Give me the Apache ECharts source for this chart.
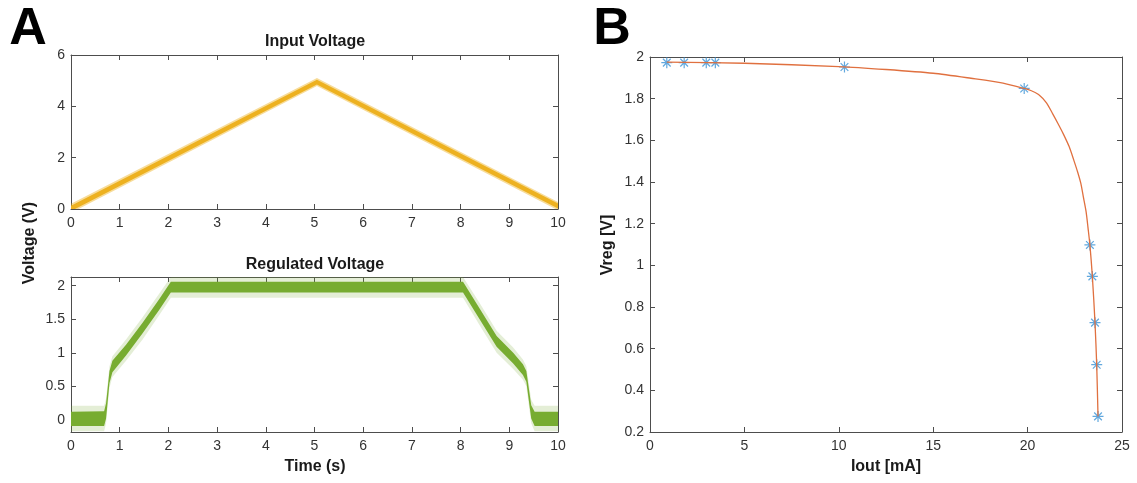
<!DOCTYPE html>
<html><head><meta charset="utf-8">
<script src="https://cdn.jsdelivr.net/npm/echarts@6/dist/echarts.min.js"></script>
<style>html,body{margin:0;padding:0;background:#fff}#c{width:1137px;height:483px}</style>
</head><body><div id="c"></div><script>
// ---- Panel A (top): Input voltage, noisy triangle read as envelope ----
const inT      = [0,     5.05, 10];
const inCoreLo = [-0.08, 4.85, 0.02];
const inCoreHi = [0.13,  5.04, 0.21];
const inFuzzLo = [-0.15, 4.79, -0.05];
const inFuzzHi = [0.20,  5.10, 0.27];
// ---- Panel A (bottom): Regulated voltage envelope ----
const regT       = [0,    0.68, 0.72, 0.79, 0.85, 1.13, 1.47, 1.81, 2.05, 8.05, 8.40, 8.74, 9.08, 9.28, 9.35, 9.45, 9.52, 10];
const regCoreLo  = [-0.09,-0.09, 0.02, 0.55, 0.71, 0.96, 1.29, 1.64, 1.90, 1.90, 1.49, 1.09, 0.84, 0.67, 0.57, 0.02,-0.09,-0.09];
const regCoreHi  = [0.12, 0.13, 0.25, 0.73, 0.88, 1.12, 1.45, 1.80, 2.06, 2.06, 1.65, 1.25, 1.00, 0.83, 0.73, 0.22, 0.12, 0.12];
const regSpikeLo = [-0.17,-0.17,-0.05, 0.48, 0.64, 0.88, 1.20, 1.56, 1.82, 1.82, 1.40, 1.00, 0.76, 0.60, 0.50,-0.05,-0.17,-0.17];
const regSpikeHi = [0.21, 0.21, 0.32, 0.80, 0.95, 1.20, 1.53, 1.88, 2.13, 2.13, 1.73, 1.33, 1.08, 0.90, 0.80, 0.30, 0.21, 0.21];
const regYTicks  = [0, 0.5, 1, 1.5, 2];
// ---- Panel B: Vreg vs Iout ----
const iout = [0.89, 1.81, 2.98, 3.46, 10.30, 19.82, 23.30, 23.43, 23.57, 23.66, 23.73];
const vreg = [1.973, 1.973, 1.973, 1.973, 1.952, 1.849, 1.098, 0.947, 0.725, 0.523, 0.275];
const fitI = [0.89, 5, 10, 12.5, 15, 17, 18.7, 19.82, 20.2, 20.58, 21.0, 21.33, 21.6, 21.89, 22.2, 22.45, 22.65, 22.82, 22.95, 23.1, 23.2, 23.3, 23.43, 23.57, 23.66, 23.73];
const fitV = [1.975, 1.970, 1.954, 1.940, 1.922, 1.898, 1.875, 1.849, 1.838, 1.820, 1.780, 1.727, 1.682, 1.631, 1.570, 1.504, 1.448, 1.393, 1.330, 1.257, 1.180, 1.098, 0.947, 0.725, 0.523, 0.275];

const FONT = 'Liberation Sans';
const AX = '#4d4d4d';
function xa(grid, min, max, interval, pos, showLabel) {
  return {type:'value', gridIndex:grid, min, max, interval, position:pos,
    axisLine:{show:true, onZero:false, lineStyle:{color:AX, width:1}},
    axisTick:{show:true, inside:true, length:5, lineStyle:{color:AX}},
    axisLabel:{show:showLabel, color:'#333', fontSize:14, fontFamily:FONT, margin:7},
    splitLine:{show:false}};
}
function ya(grid, min, max, interval, pos, showLabel, custom) {
  const a = {type:'value', gridIndex:grid, min, max, position:pos,
    axisLine:{show:true, onZero:false, lineStyle:{color:AX, width:1}},
    axisTick:{show:true, inside:true, length:5, lineStyle:{color:AX}},
    axisLabel:{show:showLabel, color:'#333', fontSize:14, fontFamily:FONT, margin:6},
    splitLine:{show:false}};
  if (custom) { a.axisTick.customValues = custom; a.axisLabel.customValues = custom; }
  else a.interval = interval;
  return a;
}
function band(xi, yi, xs, lo, hi, color, opacity) {
  return {type:'custom', xAxisIndex:xi, yAxisIndex:yi, clip:true, silent:true,
    data:[[xs[0], lo[0]]],
    renderItem:(params, api) => {
      const pts = [];
      for (let i = 0; i < xs.length; i++) pts.push(api.coord([xs[i], hi[i]]));
      for (let i = xs.length - 1; i >= 0; i--) pts.push(api.coord([xs[i], lo[i]]));
      return {type:'polygon', shape:{points:pts}, style:{fill:color, opacity:opacity}};
    }};
}
const star = 'path://M5,0 L5,10 M0,5 L10,5 M1.5,1.5 L8.5,8.5 M1.5,8.5 L8.5,1.5';
const txt = (x, y, text, size, extra) => Object.assign({type:'text', x, y,
  style:Object.assign({text, fontSize:size, fontWeight:'bold', fontFamily:FONT, fill:'#1a1a1a',
    textAlign:'center', textVerticalAlign:'middle'}, extra || {})});

const chart = echarts.init(document.getElementById('c'));
chart.setOption({
  animation:false,
  grid:[
    {left:71, top:55, width:487, height:154},
    {left:71, top:277, width:487, height:155},
    {left:650, top:57, width:472, height:375}
  ],
  xAxis:[
    xa(0, 0, 10, 1, 'bottom', true), xa(0, 0, 10, 1, 'top', false),
    xa(1, 0, 10, 1, 'bottom', true), xa(1, 0, 10, 1, 'top', false),
    xa(2, 0, 25, 5, 'bottom', true), xa(2, 0, 25, 5, 'top', false)
  ],
  yAxis:[
    ya(0, 0, 6, 2, 'left', true), ya(0, 0, 6, 2, 'right', false),
    ya(1, -0.18, 2.13, null, 'left', true, regYTicks), ya(1, -0.18, 2.13, null, 'right', false, regYTicks),
    ya(2, 0.2, 2, 0.2, 'left', true), ya(2, 0.2, 2, 0.2, 'right', false)
  ],
  series:[
    band(0, 0, inT, inFuzzLo, inFuzzHi, '#EDB120', 0.45),
    band(0, 0, inT, inCoreLo, inCoreHi, '#EDB120', 1),
    band(2, 2, regT, regSpikeLo, regSpikeHi, '#77AC30', 0.2),
    band(2, 2, regT, regCoreLo, regCoreHi, '#77AC30', 1),
    {type:'line', xAxisIndex:4, yAxisIndex:4, data:fitI.map((v,i)=>[v, fitV[i]]),
      showSymbol:false, smooth:0.25, lineStyle:{color:'#E0703F', width:1.3}},
    {type:'scatter', xAxisIndex:4, yAxisIndex:4, data:iout.map((v,i)=>[v, vreg[i]]),
      symbol:star, symbolSize:11, itemStyle:{color:'rgba(0,0,0,0)', borderColor:'#3A92D6', borderWidth:1.2}}
  ],
  graphic:[
    txt(28, 30, 'A', 52, {fill:'#000'}),
    txt(612, 30, 'B', 52, {fill:'#000'}),
    txt(315, 42, 'Input Voltage', 16),
    txt(315, 265, 'Regulated Voltage', 16),
    txt(315, 467, 'Time (s)', 16),
    txt(886, 467, 'Iout [mA]', 16),
    Object.assign(txt(30, 243, 'Voltage (V)', 16), {rotation:Math.PI/2}),
    Object.assign(txt(608, 245, 'Vreg [V]', 16), {rotation:Math.PI/2})
  ]
});
</script></body></html>
